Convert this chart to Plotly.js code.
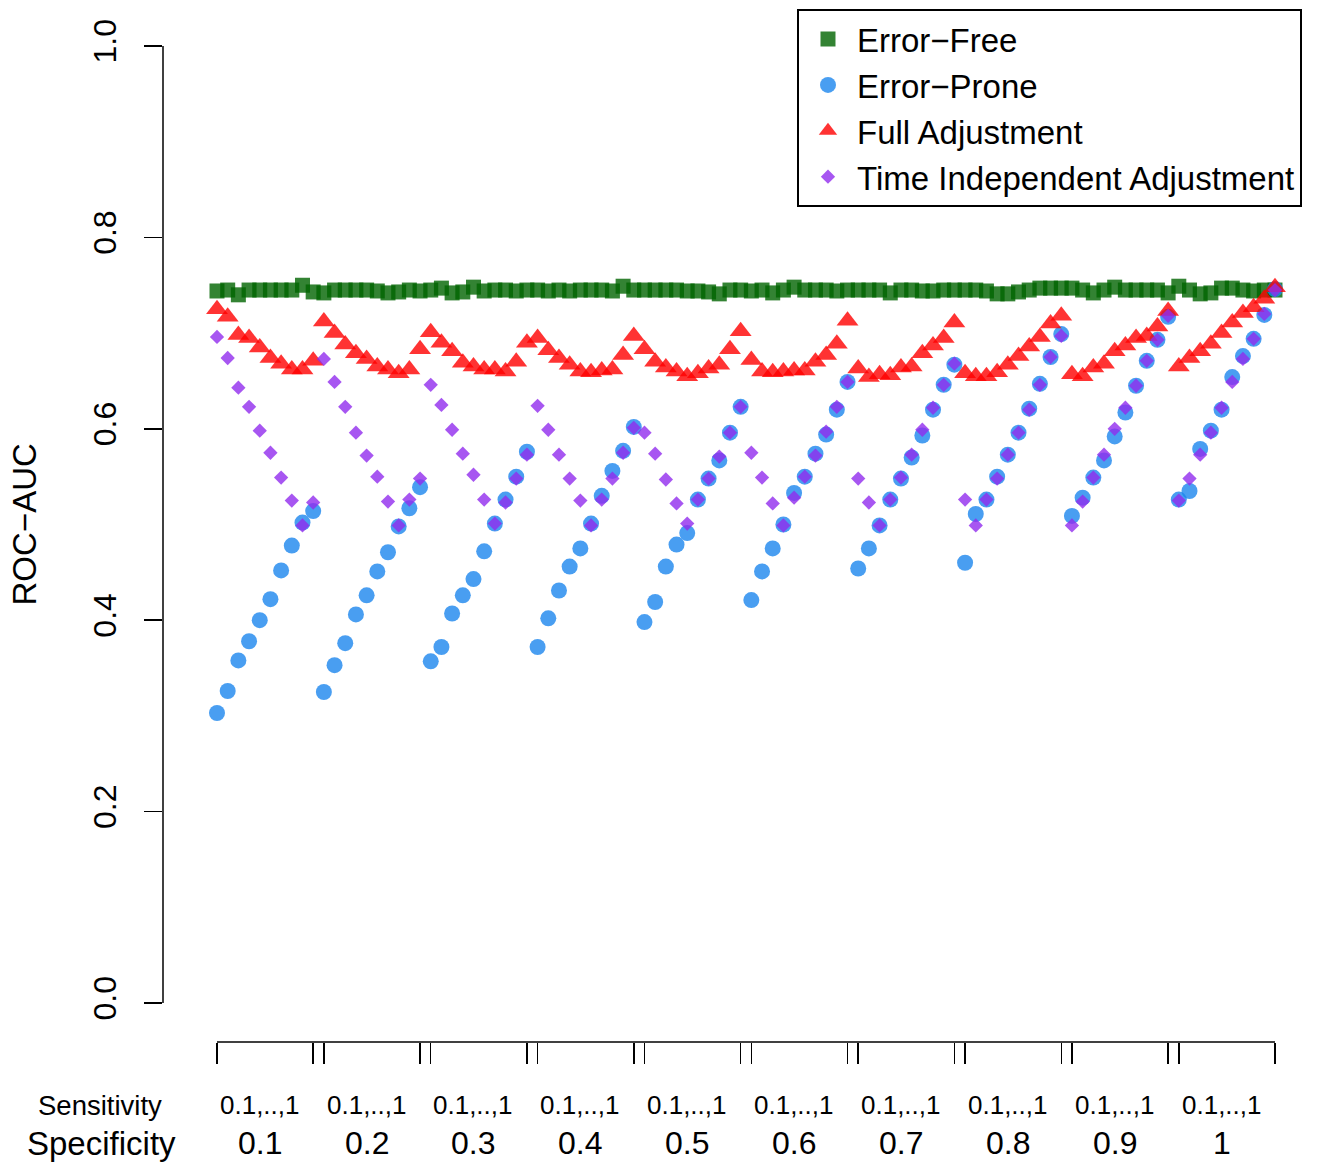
<!DOCTYPE html>
<html>
<head>
<meta charset="utf-8">
<script src="https://cdn.plot.ly/plotly-3.0.1.min.js"></script>
<style>html,body{margin:0;padding:0;background:#fff;}#chart{width:1331px;height:1165px;}</style>
</head>
<body>
<div id="chart"></div>
<script>
// Specificity groups and sensitivity values (10 x 10 scenarios)
const specificity = ['0.1','0.2','0.3','0.4','0.5','0.6','0.7','0.8','0.9','1'];
const sensitivityLabel = '0.1,..,1';
const sensitivity = [0.1,0.2,0.3,0.4,0.5,0.6,0.7,0.8,0.9,1.0];

const errorFree = [
  0.744,0.745,0.740,0.745,0.745,0.745,0.745,0.745,0.750,0.743,
  0.742,0.745,0.745,0.745,0.745,0.744,0.742,0.743,0.745,0.744,
  0.745,0.747,0.742,0.743,0.748,0.744,0.745,0.745,0.744,0.745,
  0.745,0.744,0.745,0.744,0.745,0.745,0.745,0.744,0.749,0.745,
  0.745,0.745,0.745,0.745,0.744,0.744,0.743,0.741,0.745,0.745,
  0.744,0.745,0.742,0.745,0.748,0.745,0.745,0.745,0.744,0.745,
  0.745,0.745,0.745,0.742,0.745,0.745,0.744,0.744,0.745,0.745,
  0.745,0.745,0.744,0.741,0.741,0.743,0.745,0.747,0.747,0.747,
  0.747,0.745,0.742,0.745,0.748,0.745,0.745,0.745,0.745,0.742,
  0.749,0.745,0.741,0.742,0.747,0.747,0.745,0.744,0.745,0.745
];
const errorProne = [
  0.303,0.326,0.358,0.378,0.400,0.422,0.452,0.478,0.502,0.514,
  0.325,0.353,0.376,0.406,0.426,0.451,0.471,0.498,0.517,0.539,
  0.357,0.372,0.407,0.426,0.443,0.472,0.501,0.526,0.550,0.576,
  0.372,0.402,0.431,0.456,0.475,0.501,0.530,0.556,0.577,0.602,
  0.398,0.419,0.456,0.479,0.491,0.526,0.548,0.567,0.596,0.623,
  0.421,0.451,0.475,0.500,0.533,0.550,0.574,0.594,0.620,0.649,
  0.454,0.475,0.499,0.526,0.548,0.570,0.593,0.620,0.646,0.667,
  0.460,0.511,0.526,0.550,0.573,0.596,0.621,0.647,0.675,0.699,
  0.509,0.528,0.549,0.567,0.592,0.617,0.645,0.671,0.693,0.717,
  0.526,0.535,0.579,0.598,0.620,0.654,0.676,0.694,0.719,0.746
];
const fullAdjustment = [
  0.725,0.717,0.698,0.695,0.685,0.674,0.668,0.662,0.662,0.671,
  0.712,0.700,0.688,0.679,0.673,0.665,0.662,0.658,0.662,0.683,
  0.701,0.690,0.681,0.669,0.665,0.662,0.662,0.660,0.670,0.690,
  0.695,0.682,0.674,0.667,0.660,0.659,0.661,0.662,0.677,0.697,
  0.683,0.670,0.664,0.660,0.655,0.658,0.663,0.667,0.683,0.702,
  0.672,0.660,0.659,0.660,0.661,0.661,0.670,0.677,0.689,0.713,
  0.663,0.654,0.657,0.656,0.664,0.665,0.679,0.687,0.695,0.711,
  0.658,0.655,0.655,0.659,0.667,0.676,0.686,0.696,0.710,0.718,
  0.657,0.655,0.664,0.668,0.681,0.687,0.695,0.697,0.707,0.723,
  0.665,0.674,0.681,0.689,0.700,0.711,0.721,0.727,0.736,0.748
];
const timeIndependent = [
  0.696,0.674,0.643,0.623,0.598,0.575,0.549,0.525,0.499,0.523,
  0.673,0.649,0.623,0.596,0.572,0.550,0.524,0.499,0.526,0.548,
  0.646,0.625,0.599,0.574,0.552,0.526,0.501,0.523,0.548,0.573,
  0.624,0.599,0.573,0.548,0.525,0.499,0.526,0.548,0.575,0.601,
  0.596,0.574,0.547,0.522,0.501,0.526,0.548,0.571,0.596,0.623,
  0.575,0.549,0.522,0.499,0.528,0.550,0.572,0.597,0.623,0.649,
  0.548,0.523,0.499,0.526,0.549,0.573,0.599,0.622,0.646,0.668,
  0.526,0.499,0.526,0.548,0.573,0.596,0.620,0.646,0.675,0.697,
  0.499,0.524,0.549,0.573,0.600,0.622,0.645,0.671,0.693,0.718,
  0.525,0.548,0.573,0.596,0.622,0.649,0.673,0.694,0.720,0.745
];

// scenario index 1..100 (specificity outer, sensitivity inner)
const nG = specificity.length, nS = sensitivity.length;
const xIdx = [];
for (let g = 0; g < nG; g++) for (let s = 0; s < nS; s++) xIdx.push(g * nS + s + 1);

// group boundary ticks and label positions
const boundaryTicks = [];
const labelPos = [];
for (let g = 0; g < nG; g++) {
  boundaryTicks.push(g * nS + 1, g * nS + nS);
  labelPos.push(g * nS + 5);
}

const FONT = 'Liberation Sans, Arial, Helvetica, sans-serif';

function tr(name, y, color, symbol, size) {
  return {
    type: 'scatter', mode: 'markers', name: name, x: xIdx, y: y,
    marker: {color: color, symbol: symbol, size: size, line: {width: 0}},
    hoverinfo: 'x+y'
  };
}

const data = [
  tr('Error\u2212Free', errorFree, 'rgba(0,100,0,0.8)', 'square', 15),
  tr('Error\u2212Prone', errorProne, 'rgba(28,134,238,0.8)', 'circle', 16),
  tr('Full Adjustment', fullAdjustment, 'rgba(255,0,0,0.8)', 'triangle-up', 19),
  tr('Time Independent Adjustment', timeIndependent, 'rgba(145,44,238,0.8)', 'diamond', 11)
];

const annotations = [];
for (let g = 0; g < nG; g++) {
  annotations.push({x: labelPos[g], xref: 'x', y: 0, yref: 'paper', yanchor: 'middle', xanchor: 'center',
    yshift: -63, text: sensitivityLabel, showarrow: false, font: {size: 26, color: '#000', family: FONT}});
  annotations.push({x: labelPos[g], xref: 'x', y: 0, yref: 'paper', yanchor: 'middle', xanchor: 'center',
    yshift: -101, text: specificity[g], showarrow: false, font: {size: 32, color: '#000', family: FONT}});
}
annotations.push({x: -0.0554, xref: 'paper', y: 0, yref: 'paper', yanchor: 'middle', xanchor: 'center',
  yshift: -63, text: 'Sensitivity', showarrow: false, font: {size: 27.5, color: '#000', family: FONT}});
annotations.push({x: -0.0545, xref: 'paper', y: 0, yref: 'paper', yanchor: 'middle', xanchor: 'center',
  yshift: -101, text: 'Specificity', showarrow: false, font: {size: 33, color: '#000', family: FONT}});
// y-axis title, centred on the 0..1 span
annotations.push({x: -0.1214, xref: 'paper', y: 0.5, yref: 'y', xanchor: 'center', yanchor: 'middle',
  textangle: -90, text: 'ROC\u2212AUC', showarrow: false, font: {size: 33, color: '#000', family: FONT}});

const layout = {
  width: 1331, height: 1165,
  margin: {l: 163, r: 31, t: 46, b: 123, pad: 0, autoexpand: false},
  paper_bgcolor: '#fff', plot_bgcolor: '#fff',
  font: {family: FONT, color: '#000', size: 31},
  showlegend: true,
  legend: {
    x: 0.5576, y: 1.0371, xanchor: 'left', yanchor: 'top',
    bordercolor: '#000', borderwidth: 2, bgcolor: '#fff',
    itemwidth: 48,
    font: {size: 33, family: FONT, color: '#000'}
  },
  xaxis: {
    range: [-4.053, 102.34], showgrid: false, zeroline: false, showline: false,
    tickmode: 'array', tickvals: boundaryTicks, ticktext: boundaryTicks.map(() => ''),
    ticks: 'outside', ticklen: 21, tickwidth: 1.5, tickcolor: '#000', showticklabels: false
  },
  yaxis: {
    range: [-0.04075, 1], showgrid: false, zeroline: false, showline: false,
    tickmode: 'array', tickvals: [0, 0.2, 0.4, 0.6, 0.8, 1.0],
    ticktext: ['0.0', '0.2', '0.4', '0.6', '0.8', '1.0'],
    ticks: 'outside', ticklen: 18, tickwidth: 1.5, tickcolor: '#000',
    tickangle: -90, tickfont: {size: 32, family: FONT, color: '#000'},
    ticklabelstandoff: 15
  },
  shapes: [
    {type: 'line', xref: 'paper', x0: 0, x1: 0, yref: 'y', y0: 0, y1: 1, line: {color: '#000', width: 1.5}},
    {type: 'line', xref: 'x', x0: boundaryTicks[0], x1: boundaryTicks[boundaryTicks.length - 1], yref: 'paper', y0: 0, y1: 0, line: {color: '#000', width: 1.5}}
  ],
  annotations: annotations
};

Plotly.newPlot('chart', data, layout, {displayModeBar: false, staticPlot: true});
</script>
</body>
</html>
